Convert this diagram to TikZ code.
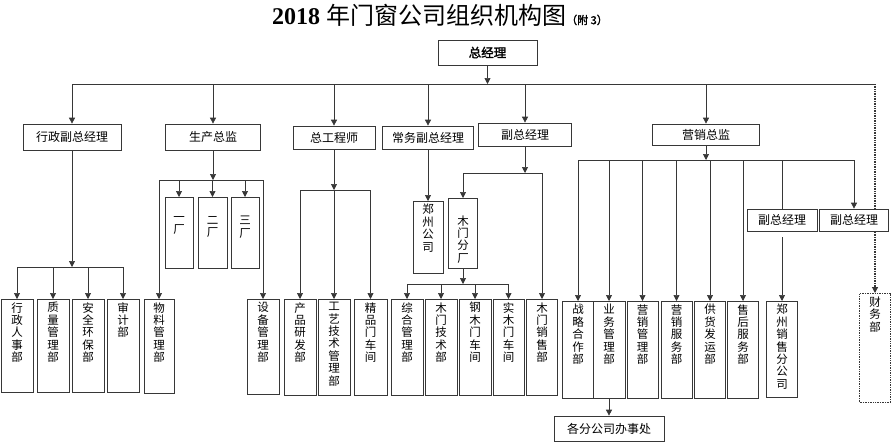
\documentclass[tikz,border=0pt]{standalone}
\usepackage{fontspec}
\setmainfont{Liberation Serif}
\newfontfamily\cjk{Noto Sans CJK SC}
\newfontfamily\cjkbold[FakeBold=2]{Noto Sans CJK SC}
\usetikzlibrary{arrows.meta}

\definecolor{linecol}{RGB}{55,55,55}

% vertical text: height, chars stacked
\newcommand{\vt}[3][3]{\parbox[t][#2pt][t]{16pt}{\centering\fontsize{11.5}{12.4}\selectfont\vspace*{#1pt}#3}}

\tikzset{
	box/.style={draw=linecol, line width=0.7pt, fill=white, inner sep=0pt,
		font=\cjk\fontsize{12}{14}\selectfont},
	vbox/.style={box, anchor=north, minimum width=31pt},
	dotbox/.style={vbox, densely dotted, line width=1.2pt},
	link/.style={draw=linecol, line width=0.7pt},
	arr/.style={link, -{Triangle[length=6pt,width=6pt]}},
	dotline/.style={arr, densely dotted, line width=1.2pt}
}

\begin{document}
\begin{tikzpicture}[x=1pt, y=-1pt]
	\useasboundingbox (0,0) rectangle (893,442);

	\node [font=\fontsize{24}{27}\selectfont] (title) at (440,15)
		{\textbf{2018} {\cjk 年门窗公司组织机构图}{\cjkbold\fontsize{11}{12}\selectfont （附 3）}};

	\node [box, minimum width=99pt, minimum height=25pt,
		font=\cjkbold\fontsize{12.5}{14}\selectfont] (zjl) at (487.5,52.5) {总经理};

	% first level
	\node [box, minimum width=98pt, minimum height=26pt] (xz) at (72,137) {行政副总经理};
	\node [box, minimum width=95pt, minimum height=26pt] (sc) at (213,137) {生产总监};
	\node [box, minimum width=82pt, minimum height=23pt] (zgcs) at (334,137.5) {总工程师};
	\node [box, minimum width=91pt, minimum height=23pt] (cw) at (428,137.5) {常务副总经理};
	\node [box, minimum width=93pt, minimum height=23pt] (fz) at (525,134.5) {副总经理};
	\node [box, minimum width=107pt, minimum height=21pt] (yx) at (706,134.5) {营销总监};

	\coordinate (busL) at (72,84);
	\coordinate (busR) at (875,84);
	\draw [link] (busL) -- (busR);
	\draw [arr] (zjl) -- (zjl |- busL);
	\foreach \n in {xz,sc,zgcs,cw,fz,yx}
		\draw [arr] (\n |- busL) -- (\n);

	% xingzheng
	\node [vbox, minimum width=32pt] (xzrs) at (17,299) {\vt{93}{行\\政\\人\\事\\部}};
	\node [vbox, minimum width=32pt] (zlgl) at (53,299) {\vt{93}{质\\量\\管\\理\\部}};
	\node [vbox, minimum width=32pt] (aqhb) at (88,299) {\vt{93}{安\\全\\环\\保\\部}};
	\node [vbox, minimum width=32pt] (sjb) at (123,299) {\vt{93}{审\\计\\部}};

	\coordinate (xzbus) at (72,267);
	\draw [arr] (xz) -- (xzbus);
	\draw [link] (xzrs |- xzbus) -- (sjb |- xzbus);
	\foreach \n in {xzrs,zlgl,aqhb,sjb}
		\draw [arr] (\n |- xzbus) -- (\n);

	% shengchan
	\node [vbox, minimum width=28pt] (yc) at (179,197) {\vt[19]{71}{一\\厂}};
	\node [vbox, minimum width=29pt] (ec) at (212.5,197) {\vt[19]{71}{二\\厂}};
	\node [vbox, minimum width=28pt] (sanc) at (245,197) {\vt[19]{71}{三\\厂}};
	\node [vbox, minimum width=30pt] (wl) at (159,299) {\vt{94}{物\\料\\管\\理\\部}};
	\node [vbox, minimum width=32pt] (sb) at (263,299) {\vt{95}{设\\备\\管\\理\\部}};

	\coordinate (scbus) at (213,180);
	\draw [arr] (sc) -- (scbus);
	\draw [link] (wl |- scbus) -- (sb |- scbus);
	\foreach \n in {yc,ec,sanc,wl,sb}
		\draw [arr] (\n |- scbus) -- (\n);

	% zonggongchengshi
	\node [vbox, minimum width=32pt] (cpyf) at (300,299) {\vt{96}{产\\品\\研\\发\\部}};
	\node [vbox, minimum width=32pt] (gyjs) at (334,299) {\vt{96}{工\\艺\\技\\术\\管\\理\\部}};
	\node [vbox, minimum width=33pt] (jpm) at (370.5,299) {\vt{96}{精\\品\\门\\车\\间}};

	\coordinate (gcbus) at (334,190);
	\draw [arr] (zgcs) -- (gcbus);
	\draw [link] (cpyf |- gcbus) -- (jpm |- gcbus);
	\foreach \n in {cpyf,gyjs,jpm}
		\draw [arr] (\n |- gcbus) -- (\n);

	% changwu
	\node [vbox, minimum width=30pt] (zzgs) at (428,201) {\vt{72}{郑\\州\\公\\司}};
	\draw [arr] (cw) -- (zzgs);

	% fuzong
	\node [vbox, minimum width=29pt] (mmfc) at (463,198) {\vt[17]{70}{木\\门\\分\\厂}};
	\node [vbox, minimum width=31pt] (mmxs) at (542,299) {\vt{96}{木\\门\\销\\售\\部}};

	\coordinate (fzbus) at (525,173);
	\draw [arr] (fz) -- (fzbus);
	\draw [link] (mmfc |- fzbus) -- (mmxs |- fzbus);
	\foreach \n in {mmfc,mmxs}
		\draw [arr] (\n |- fzbus) -- (\n);

	\node [vbox, minimum width=32pt] (zhgl) at (407,299) {\vt{96}{综\\合\\管\\理\\部}};
	\node [vbox, minimum width=32pt] (mmjs) at (441,299) {\vt{96}{木\\门\\技\\术\\部}};
	\node [vbox, minimum width=32pt] (gmm) at (475,299) {\vt{96}{钢\\木\\门\\车\\间}};
	\node [vbox, minimum width=31pt] (smm) at (508.5,299) {\vt{96}{实\\木\\门\\车\\间}};

	\coordinate (mmbus) at (463,284);
	\draw [arr] (mmfc) -- (mmbus);
	\draw [link] (zhgl |- mmbus) -- (smm |- mmbus);
	\foreach \n in {zhgl,mmjs,gmm,smm}
		\draw [arr] (\n |- mmbus) -- (\n);

	% yingxiao
	\node [vbox, minimum width=31pt] (zlhz) at (578,301) {\vt{97}{战\\略\\合\\作\\部}};
	\node [vbox, minimum width=32pt] (ywgl) at (609,301) {\vt{97}{业\\务\\管\\理\\部}};
	\node [vbox, minimum width=31pt] (yxgl) at (642.5,301) {\vt{97}{营\\销\\管\\理\\部}};
	\node [vbox, minimum width=31pt] (yxfw) at (676.5,301) {\vt{97}{营\\销\\服\\务\\部}};
	\node [vbox, minimum width=31pt] (ghfy) at (710,301) {\vt{97}{供\\货\\发\\运\\部}};
	\node [vbox, minimum width=31pt] (shfw) at (743,301) {\vt{97}{售\\后\\服\\务\\部}};
	\node [vbox, minimum width=31pt] (zzxs) at (782,301) {\vt{96}{郑\\州\\销\\售\\分\\公\\司}};
	\node [box, minimum width=110pt, minimum height=25pt] (gfgs) at (609,428.5) {各分公司办事处};

	% caiwu, dotted
	\node [dotbox] (cwb) at (875,293) {\vt{109}{财\\务\\部}};
	\draw [dotline] (busR) -- (cwb);

	\node [box, minimum width=70pt, minimum height=22pt] (fz1) at (782,220) {副总经理};
	\node [box, minimum width=69pt, minimum height=22pt] (fz2) at (854,220) {副总经理};

	\coordinate (yxbus) at (706,160);
	\draw [arr] (yx) -- (yxbus);
	\draw [link] (zlhz |- yxbus) -- (fz2 |- yxbus);
	\foreach \n in {zlhz,ywgl,yxgl,yxfw,ghfy,shfw,fz2}
		\draw [arr] (\n |- yxbus) -- (\n);
	\draw [link] (fz1 |- yxbus) -- (fz1);
	\draw [arr, shorten <=6pt] (fz1) -- (zzxs);
	\draw [arr] (ywgl) -- (gfgs);
\end{tikzpicture}
\end{document}
